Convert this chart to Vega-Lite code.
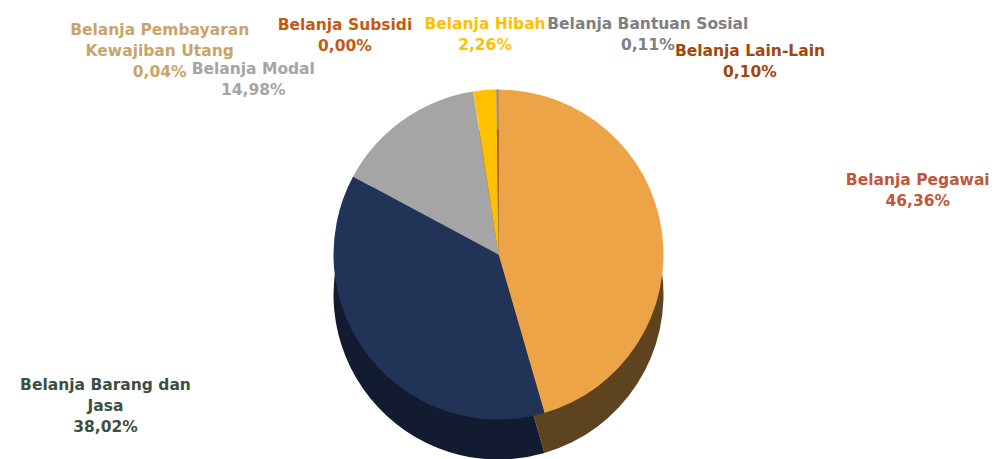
{
  "$schema": "https://vega.github.io/schema/vega-lite/v6.json",
  "autosize": {"type": "fit", "contains": "padding"},
  "width": 997,
  "height": 459,
  "padding": {"top": 40, "left": 0, "right": 0, "bottom": 0},
  "background": "white",
  "config": {"view": {"stroke": null}, "font": "DejaVu Sans"},
  "data": {
    "values": [
      {"kategori": "Belanja Pegawai", "nilai": 46.36, "urut": 1, "teks": "Belanja Pegawai\n46,36%"},
      {"kategori": "Belanja Barang dan Jasa", "nilai": 38.02, "urut": 2, "teks": "Belanja Barang dan\nJasa\n38,02%"},
      {"kategori": "Belanja Modal", "nilai": 14.98, "urut": 3, "teks": "Belanja Modal\n14,98%"},
      {"kategori": "Belanja Pembayaran Kewajiban Utang", "nilai": 0.04, "urut": 4, "teks": "Belanja Pembayaran\nKewajiban Utang\n0,04%"},
      {"kategori": "Belanja Subsidi", "nilai": 0.0, "urut": 5, "teks": "Belanja Subsidi\n0,00%"},
      {"kategori": "Belanja Hibah", "nilai": 2.26, "urut": 6, "teks": "Belanja Hibah\n2,26%"},
      {"kategori": "Belanja Bantuan Sosial", "nilai": 0.11, "urut": 7, "teks": "Belanja Bantuan Sosial\n0,11%"},
      {"kategori": "Belanja Lain-Lain", "nilai": 0.10, "urut": 8, "teks": "Belanja Lain-Lain\n0,10%"}
    ]
  },
  "encoding": {
    "theta": {"field": "nilai", "type": "quantitative", "stack": true},
    "order": {"field": "urut", "type": "quantitative"}
  },
  "layer": [
    {
      "mark": {"type": "arc", "outerRadius": 165, "yOffset": 40},
      "encoding": {
        "color": {
          "field": "kategori", "type": "nominal", "legend": null,
          "scale": {
            "domain": ["Belanja Pegawai", "Belanja Barang dan Jasa", "Belanja Modal", "Belanja Pembayaran Kewajiban Utang", "Belanja Subsidi", "Belanja Hibah", "Belanja Bantuan Sosial", "Belanja Lain-Lain"],
            "range": ["#5E4320", "#121B2F", "#5C5C5C", "#6E5A38", "#6B3009", "#8A6800", "#444444", "#552706"]
          }
        }
      }
    },
    {
      "mark": {"type": "arc", "outerRadius": 165},
      "encoding": {
        "color": {
          "field": "kategori", "type": "nominal", "legend": null,
          "scale": {
            "domain": ["Belanja Pegawai", "Belanja Barang dan Jasa", "Belanja Modal", "Belanja Pembayaran Kewajiban Utang", "Belanja Subsidi", "Belanja Hibah", "Belanja Bantuan Sosial", "Belanja Lain-Lain"],
            "range": ["#EDA447", "#213457", "#A5A5A5", "#C9A46A", "#C55A11", "#FFC000", "#7F7F7F", "#9E480E"]
          }
        }
      }
    },
    {
      "mark": {"type": "text", "radius": 175, "dx": 246, "dy": -50, "fontSize": 15.5, "fontWeight": "bold", "color": "#C0573A", "lineBreak": "\n", "lineHeight": 21, "align": "center", "baseline": "middle"},
      "encoding": {"text": {"condition": {"test": "datum.kategori === 'Belanja Pegawai'", "field": "teks"}, "value": ""}}
    },
    {
      "mark": {"type": "text", "radius": 175, "dx": -257, "dy": 20, "fontSize": 15.5, "fontWeight": "bold", "color": "#3D4F42", "lineBreak": "\n", "lineHeight": 21, "align": "center", "baseline": "middle"},
      "encoding": {"text": {"condition": {"test": "datum.kategori === 'Belanja Barang dan Jasa'", "field": "teks"}, "value": ""}}
    },
    {
      "mark": {"type": "text", "radius": 175, "dx": -144, "dy": -43, "fontSize": 15.5, "fontWeight": "bold", "color": "#A5A5A5", "lineBreak": "\n", "lineHeight": 21, "align": "center", "baseline": "middle"},
      "encoding": {"text": {"condition": {"test": "datum.kategori === 'Belanja Modal'", "field": "teks"}, "value": ""}}
    },
    {
      "mark": {"type": "text", "radius": 175, "dx": -312, "dy": -52, "fontSize": 15.5, "fontWeight": "bold", "color": "#C9A46A", "lineBreak": "\n", "lineHeight": 21, "align": "center", "baseline": "middle"},
      "encoding": {"text": {"condition": {"test": "datum.kategori === 'Belanja Pembayaran Kewajiban Utang'", "field": "teks"}, "value": ""}}
    },
    {
      "mark": {"type": "text", "radius": 175, "dx": -127, "dy": -57, "fontSize": 15.5, "fontWeight": "bold", "color": "#C55A11", "lineBreak": "\n", "lineHeight": 21, "align": "center", "baseline": "middle"},
      "encoding": {"text": {"condition": {"test": "datum.kategori === 'Belanja Subsidi'", "field": "teks"}, "value": ""}}
    },
    {
      "mark": {"type": "text", "radius": 175, "dx": 1, "dy": -56, "fontSize": 15.5, "fontWeight": "bold", "color": "#FFC000", "lineBreak": "\n", "lineHeight": 21, "align": "center", "baseline": "middle"},
      "encoding": {"text": {"condition": {"test": "datum.kategori === 'Belanja Hibah'", "field": "teks"}, "value": ""}}
    },
    {
      "mark": {"type": "text", "radius": 175, "dx": 151, "dy": -56, "fontSize": 15.5, "fontWeight": "bold", "color": "#7F7F7F", "lineBreak": "\n", "lineHeight": 21, "align": "center", "baseline": "middle"},
      "encoding": {"text": {"condition": {"test": "datum.kategori === 'Belanja Bantuan Sosial'", "field": "teks"}, "value": ""}}
    },
    {
      "mark": {"type": "text", "radius": 175, "dx": 252, "dy": -29, "fontSize": 15.5, "fontWeight": "bold", "color": "#9E480E", "lineBreak": "\n", "lineHeight": 21, "align": "center", "baseline": "middle"},
      "encoding": {"text": {"condition": {"test": "datum.kategori === 'Belanja Lain-Lain'", "field": "teks"}, "value": ""}}
    }
  ],
  "resolve": {"scale": {"color": "independent"}}
}
